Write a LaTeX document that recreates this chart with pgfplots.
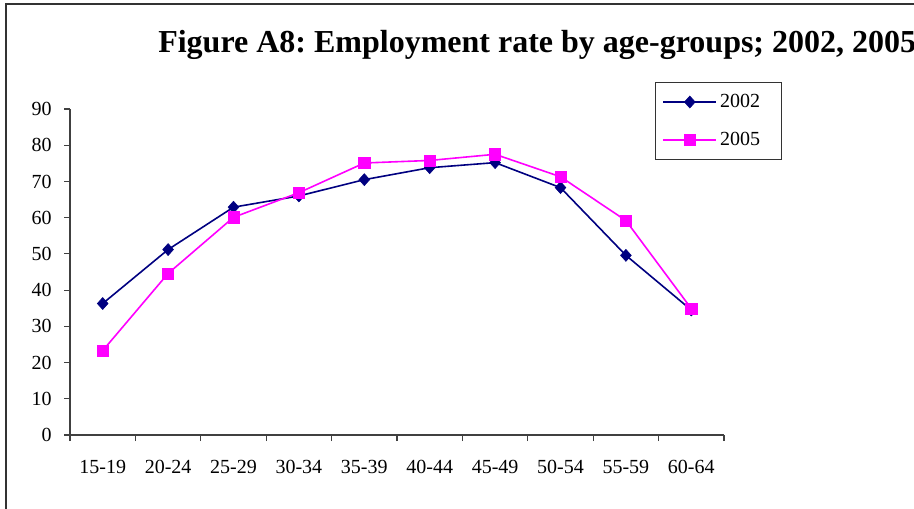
\documentclass[border=0pt]{standalone}
\usepackage{pgfplots}
\pgfplotsset{compat=1.18}
\usepackage{fontspec}
\setmainfont{Liberation Serif}
\frenchspacing
\definecolor{navy}{HTML}{000080}
\definecolor{mag}{HTML}{FF00FF}
\definecolor{axgray}{HTML}{404040}
\begin{document}
\begin{tikzpicture}
\useasboundingbox (0pt,0pt) rectangle (685.5pt,-381pt);
\begin{scope}
\clip (0pt,0pt) rectangle (685.5pt,-381pt);
\draw[black!80, line width=0.8pt] (4.5pt,-3pt) rectangle (700pt,-400pt);
\node[anchor=base west, inner sep=0pt, font=\fontsize{24}{28}\selectfont\bfseries] at (118.5pt,-39pt) {Figure A8: Employment rate by age-groups; 2002, 2005};
\end{scope}
\begin{axis}[
  at={(52.5pt,-326.25pt)}, anchor=south west,
  scale only axis, width=490.5pt, height=244.5pt,
  xmin=0, xmax=10, ymin=0, ymax=90,
  axis lines=left,
  axis line style={-, draw=axgray, line width=0.8pt},
  every tick/.style={draw=axgray, line width=0.8pt},
  tick align=outside, major tick length=4.5pt,
  xtick={0,1,...,10}, xticklabels={},
  extra x ticks={0.5,1.5,...,9.5},
  extra x tick labels={15-19,20-24,25-29,30-34,35-39,40-44,45-49,50-54,55-59,60-64},
  extra x tick style={major tick length=0pt, xticklabel style={anchor=north, inner sep=0pt, yshift=-18.75pt}},
  ytick={0,10,...,90},
  yticklabel style={anchor=east, inner sep=0pt, xshift=-9pt},
  tick label style={font=\fontsize{15}{18}\selectfont},
  /pgf/number format/assume math mode=true,
  legend style={at={(0.8945,1.0826)}, anchor=north west, draw=black!80, line width=0.8pt,
     font=\fontsize{15}{18}\selectfont, inner xsep=5pt, inner ysep=6.8pt, row sep=12.9pt,
     nodes={inner sep=2pt}},
  legend cell align=left,
  legend image code/.code={\draw[#1, line width=1.4pt, mark repeat=2, mark phase=2] plot coordinates {(0pt,0pt) (20pt,0pt) (40pt,0pt)};},
  clip=false,
]
\addplot[navy, line width=1.2pt, mark=diamond*, mark size=4.5pt, mark options={xscale=1.2, fill=navy, draw=navy, line width=0.4pt}]
  coordinates {(0.5,36.3) (1.5,51.2) (2.5,62.9) (3.5,66.0) (4.5,70.5) (5.5,73.8) (6.5,75.2) (7.5,68.3) (8.5,49.6) (9.5,34.5)};
\addlegendentry{2002\hspace*{9pt}}
\addplot[mag, line width=1.2pt, mark=square*, mark size=4.2pt, mark options={fill=mag, draw=mag, line width=0.4pt}]
  coordinates {(0.5,23.3) (1.5,44.6) (2.5,60.1) (3.5,66.9) (4.5,75.1) (5.5,75.8) (6.5,77.5) (7.5,71.3) (8.5,59.2) (9.5,34.9)};
\addlegendentry{2005\hspace*{9pt}}
\end{axis}
\end{tikzpicture}
\end{document}
